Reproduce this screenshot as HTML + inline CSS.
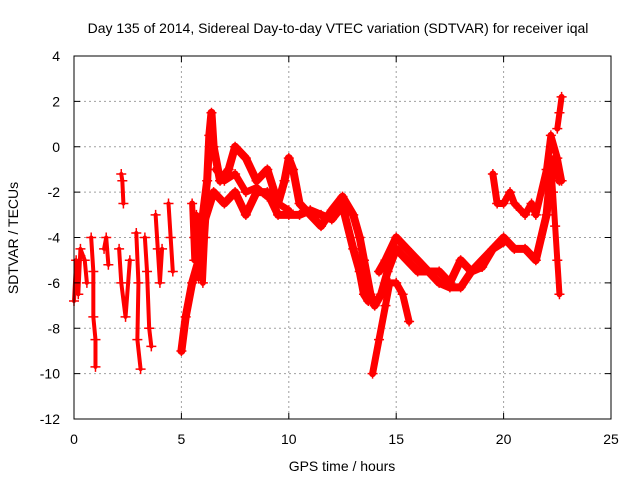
<!DOCTYPE html>
<html><head><meta charset="utf-8"><style>
body{margin:0;background:#fff}
svg text{font-family:"Liberation Sans",sans-serif;font-size:14px;fill:#000}
</style></head><body>
<svg id="chart" width="640" height="480" xmlns="http://www.w3.org/2000/svg">
<text x="338" y="33" text-anchor="middle">Day 135 of 2014, Sidereal Day-to-day VTEC variation (SDTVAR) for receiver iqal</text>
<text x="342" y="471" text-anchor="middle">GPS time / hours</text>
<text transform="translate(18,238) rotate(-90)" text-anchor="middle">SDTVAR / TECUs</text>
<g id="grid"></g><g id="marks"></g><g id="axes"></g>
</svg>
<script>
const xTicks=[0,5,10,15,20,25];
const yTicks=[4,2,0,-2,-4,-6,-8,-10,-12];
const mainHours=[5.0,5.2,5.5,5.8,6.0,6.2,6.3,6.4,6.5,6.8,7.2,7.5,8.0,8.5,9.0,9.5,9.8,10.0,10.2,10.5,11.0,11.5,12.0,12.5,13.0,13.3,13.5,13.8,14.0,14.3,14.6,15.0,15.5,16.0,16.5,17.0,17.5,18.0,18.5,19.0,19.5,20.0,20.5,21.0,21.5,22.0,22.2,22.4,22.6];
const mainValues=[-9,-7.5,-6,-5,-3,-1.5,0.5,1.5,0,-1.5,-1,0,-0.5,-1.5,-1,-2.5,-1.5,-0.5,-1,-2.5,-3,-3.5,-2.8,-2.2,-3,-4,-5,-6.5,-7,-6.5,-5.5,-4.5,-5,-5.5,-5.5,-5.5,-6,-5,-5.5,-5,-4.5,-4,-4.5,-4.5,-5,-3,-1,-0.5,-1.5];
const branchHours=[5.6,6.0,6.5,7.0,7.5,8.0,8.5,9.0,9.5,10.0,10.5,11.0,11.5,12.0,12.5,13.0,13.3,13.5,13.7];
const branchValues=[-4,-3.5,-2,-2.5,-2,-3,-2,-2,-3,-3,-3,-2.8,-3,-3.2,-2.6,-4.5,-5.5,-6.5,-6.8];
const bandHours=[6.6,7.0,7.5,8.0,8.5,9.0,9.5,10.0];
const bandValues=[-1,-1.5,-1.2,-2,-1.8,-2.2,-2.5,-2.8];
const blobHours=[5.5,5.6,5.7,5.8,5.9,6.0,6.1,6.2];
const blobValues=[-2.5,-5,-3,-5.8,-3.5,-6,-4,-2.5];
const dipHours=[13.9,14.2,14.5,14.7,15.0,15.3,15.6];
const dipValues=[-10,-8.5,-7,-6,-6,-6.5,-7.7];
const midHours=[14.2,14.5,15.0,15.5,16.0,16.5,17.0,17.5,18.0,18.5,19.0,19.5,20.0];
const midValues=[-5.5,-5,-4,-4.5,-5,-5.5,-6,-6.2,-6.2,-5.5,-5.3,-4.5,-4.2];
const lateHours=[19.5,19.7,20.0,20.3,20.5,20.8,21.0,21.3,21.5,22.0,22.2,22.5,22.7];
const lateValues=[-1.2,-2.5,-2.5,-2,-2.5,-2.8,-3,-2.5,-3,-1,0.5,-0.5,-1.5];
const downHours=[22.2,22.3,22.4,22.5,22.6];
const downValues=[-0.5,-2,-3.5,-5,-6.5];
const endHours=[22.5,22.6,22.7];
const endValues=[0.8,1.5,2.2];
const c1Hours=[0.0,0.1,0.2,0.3,0.5,0.6];const c1Values=[-6.8,-5,-6.5,-4.5,-5,-6];
const c2Hours=[0.8,0.9,0.9,1.0,1.0];const c2Values=[-4,-5.5,-7.5,-8.5,-9.7];
const c3Hours=[1.4,1.5,1.6];const c3Values=[-4.5,-4,-5.2];
const c4Hours=[2.2,2.25,2.3];const c4Values=[-1.2,-1.5,-2.5];
const c5Hours=[2.1,2.2,2.4,2.6];const c5Values=[-4.5,-6,-7.5,-5];
const c6Hours=[2.9,3.0,2.95,3.1];const c6Values=[-3.8,-6,-8.5,-9.8];
const c7Hours=[3.3,3.4,3.5,3.6];const c7Values=[-4,-5.5,-8,-8.8];
const c8Hours=[3.8,3.9,4.0,4.1];const c8Values=[-3,-4.5,-6,-4.5];
const c9Hours=[4.4,4.5,4.6];const c9Values=[-2.5,-4,-5.5];
const traces=[[mainHours,mainValues,8],[branchHours,branchValues,8],[bandHours,bandValues,7],[blobHours,blobValues,6],[dipHours,dipValues,7],[midHours,midValues,8],[lateHours,lateValues,7],[downHours,downValues,6],[endHours,endValues,6],[c1Hours,c1Values,4],[c2Hours,c2Values,4],[c3Hours,c3Values,4],[c4Hours,c4Values,4],[c5Hours,c5Values,4],[c6Hours,c6Values,4],[c7Hours,c7Values,4],[c8Hours,c8Values,4],[c9Hours,c9Values,4]];
const L=74,R=611,T=56,B=419;
const xs=h=>L+h/25*(R-L);
const ys=v=>T+(4-v)/16*(B-T);
const NS="http://www.w3.org/2000/svg";
function mk(tag,attrs,parent){const e=document.createElementNS(NS,tag);for(const k in attrs)e.setAttribute(k,attrs[k]);parent.appendChild(e);return e;}
const grid=document.getElementById('grid'),axes=document.getElementById('axes'),marks=document.getElementById('marks');
xTicks.forEach(t=>{
  if(t>0&&t<25){const g=mk('line',{x1:xs(t),x2:xs(t),y1:T,y2:B,stroke:'#a0a0a0','stroke-dasharray':'2,3'},grid);
  
  }
  const tx=mk('text',{x:xs(t),y:444,'text-anchor':'middle'},axes);tx.textContent=t;
  
  
  mk('line',{x1:xs(t),x2:xs(t),y1:B,y2:B-6,stroke:'#000'},axes);
  mk('line',{x1:xs(t),x2:xs(t),y1:T,y2:T+6,stroke:'#000'},axes);
});
yTicks.forEach(t=>{
  if(t<4&&t>-12){const g=mk('line',{x1:L,x2:R,y1:ys(t),y2:ys(t),stroke:'#a0a0a0','stroke-dasharray':'2,3'},grid);
  
  }
  const tx=mk('text',{x:60,y:ys(t)+5,'text-anchor':'end'},axes);tx.textContent=t;
  
  
  mk('line',{x1:L,x2:L+6,y1:ys(t),y2:ys(t),stroke:'#000'},axes);
  mk('line',{x1:R,x2:R-6,y1:ys(t),y2:ys(t),stroke:'#000'},axes);
});
const fr=mk('rect',{x:L,y:T,width:R-L,height:B-T,fill:'none',stroke:'#000'},axes);


traces.forEach(([hs,vs,w])=>{
  const pts=hs.map((h,i)=>xs(h)+','+ys(vs[i])).join(' ');
  const pl=mk('polyline',{points:pts,fill:'none',stroke:'#ff0000','stroke-width':w,'stroke-linejoin':'round','stroke-linecap':'round'},marks);
  
  
  hs.forEach((h,i)=>{const x=xs(h),y=ys(vs[i]);
    const p=mk('path',{d:`M${x-5},${y}H${x+5}M${x},${y-5}V${y+5}`,stroke:'#ff0000','stroke-width':1.5},marks);
    
    
  });
});
</script>
</body></html>
